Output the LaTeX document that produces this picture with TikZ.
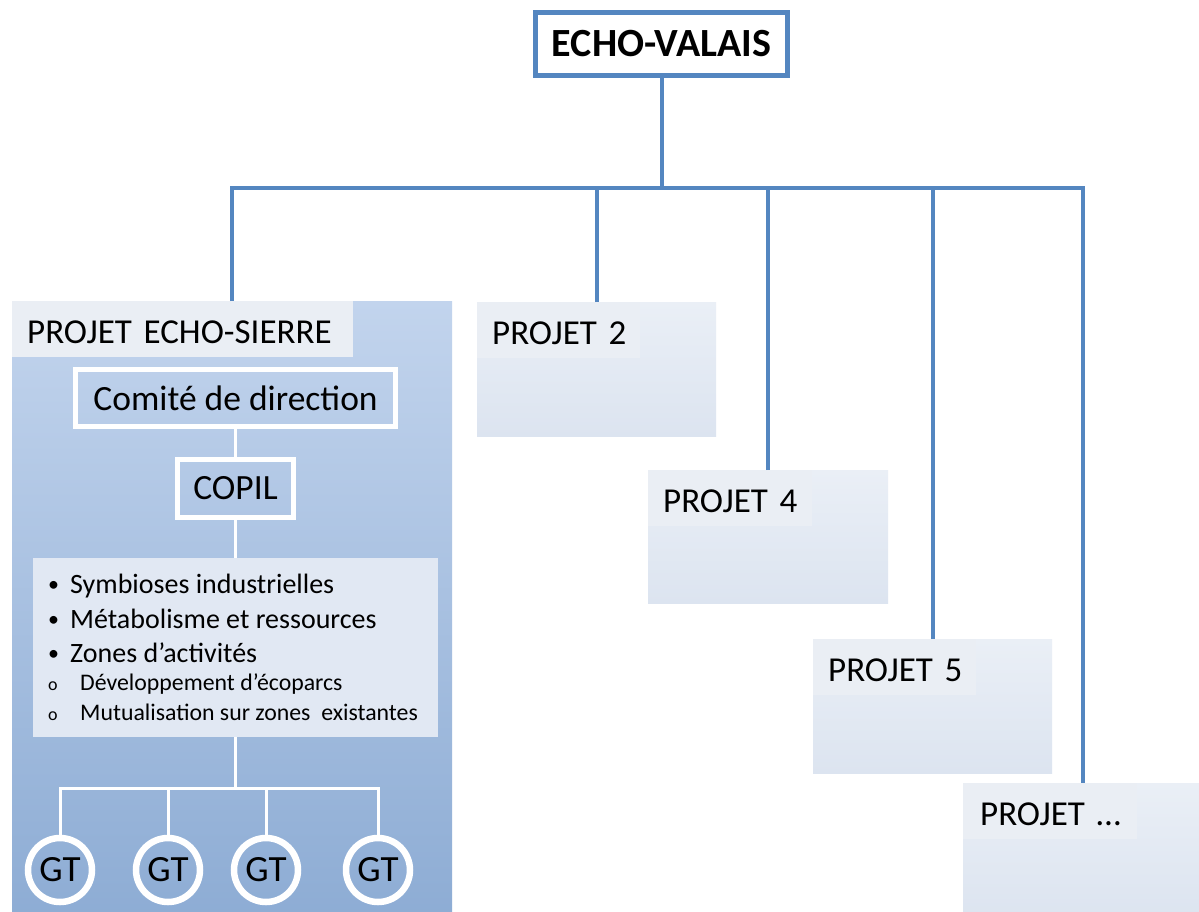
\documentclass[tikz,border=0pt]{standalone}
\usepackage{fontspec}
\setmainfont{Carlito}
\definecolor{blueline}{RGB}{84,134,192}
\definecolor{paneltop}{RGB}{194,212,237}
\definecolor{panelbot}{RGB}{141,172,212}
\definecolor{labelfill}{RGB}{234,238,244}
\definecolor{listfill}{RGB}{225,232,243}
\definecolor{projtop}{RGB}{234,239,246}
\definecolor{projbot}{RGB}{220,228,240}
\tikzset{
  conn/.style={draw=blueline, line width=4pt},
  wline/.style={draw=white, line width=3pt},
  mainbox/.style={draw=blueline, line width=5pt, fill=white, inner sep=0pt,
    minimum width=252pt, minimum height=63pt, font=\fontsize{40}{46}\selectfont\bfseries},
  panel/.style={rectangle, inner sep=0pt, outer sep=0pt, anchor=north west},
  bigpanel/.style={panel, top color=paneltop, bottom color=panelbot},
  projpanel/.style={panel, top color=projtop, bottom color=projbot},
  lab/.style={rectangle, fill=labelfill, anchor=north west, inner xsep=15pt, inner ysep=0pt,
    minimum height=56pt, align=left, text height=28pt, text depth=0pt,
    font=\fontsize{35}{40}\selectfont},
  wbox/.style={draw=white, line width=5pt, inner sep=0pt, font=\fontsize{35.5}{40}\selectfont},
  gt/.style={circle, draw=white, line width=6.5pt, minimum size=64pt, inner sep=0pt,
    font=\fontsize{37}{42}\selectfont},
  item/.style={anchor=base west, inner sep=0pt, font=\fontsize{28}{32}\selectfont},
  bul/.style={anchor=base west, inner sep=0pt, font=\fontsize{22}{26}\selectfont},
  subitem/.style={anchor=base west, inner sep=0pt, font=\fontsize{23.8}{28}\selectfont},
  subbul/.style={anchor=base west, inner sep=0pt, font=\fontsize{18}{22}\selectfont}
}
\begin{document}
\begin{tikzpicture}[x=1pt,y=-1pt]
\useasboundingbox (0,0) rectangle (1199,912);
\fill[white] (0,0) rectangle (1199,912);
% main box
\node[mainbox] (echo) at (661.5,44) {ECHO-VALAIS};
% panels
\node[bigpanel, minimum width=440pt, minimum height=620pt] (p1) at (12,301) {};
\node[projpanel, minimum width=239pt, minimum height=134pt] (p2) at (477,302) {};
\node[projpanel, minimum width=240pt, minimum height=133pt] (p4) at (648,470) {};
\node[projpanel, minimum width=239pt, minimum height=134pt] (p5) at (813,639) {};
\node[projpanel, minimum width=240pt, minimum height=134pt] (p6) at (963,783) {};
% labels
\node[lab, text width=311pt] (l1) at (p1.north west) {\mbox{PROJET ECHO-SIERRE}};
\node[lab, text width=133pt] (l2) at (p2.north west) {\mbox{PROJET 2}};
\node[lab, text width=134pt] (l4) at (p4.north west) {\mbox{PROJET 4}};
\node[lab, text width=133pt] (l5) at (p5.north west) {\mbox{PROJET 5}};
\node[lab, text width=144pt] (l6) at (p6.north west) {\mbox{\hspace{2pt}PROJET …}};
% connectors
\coordinate (bus) at (662,188);
\draw[conn] (echo.south) -- (echo.south |- bus);
\draw[conn, line join=miter] (p1.north) |- (p6.north |- bus) -- (p6.north);
\draw[conn] (p2.north) -- (p2.north |- bus);
\draw[conn] (p4.north) -- (p4.north |- bus);
\draw[conn] (p5.north) -- (p5.north |- bus);
% inner structure
\node[wbox, minimum width=320pt, minimum height=57pt] (cd) at (235.5,398) {Comité de direction};
\node[wbox, minimum width=116pt, minimum height=58pt] (copil) at (235.5,488.5) {COPIL};
\node[fill=listfill, minimum width=405pt, minimum height=179pt, inner sep=0pt] (list) at (235.5,647.5) {};
\node[bul] (i1b) at (48,591) {\textbullet};
\node[item] (i1) at (70,593) {Symbioses industrielles};
\node[bul] (i2b) at (48,626) {\textbullet};
\node[item] (i2) at (70,628) {Métabolisme et ressources};
\node[bul] (i3b) at (48,660) {\textbullet};
\node[item] (i3) at (70,662) {Zones d’activités};
\node[subbul] (s1b) at (48,690) {o};
\node[subitem] (s1) at (80,690) {Développement d’écoparcs};
\node[subbul] (s2b) at (48,720) {o};
\node[subitem] (s2) at (80,720) {Mutualisation sur zones\ \ existantes};
\node[gt] (g1) at (60,870) {GT};
\node[gt] (g2) at (168,870) {GT};
\node[gt] (g3) at (266,870) {GT};
\node[gt] (g4) at (378,870) {GT};
\coordinate (gbus) at (236,788);
\draw[wline] (cd.south) -- (copil.north);
\draw[wline] (copil.south) -- (list.north);
\draw[wline] (list.south) -- (list.south |- gbus);
\draw[wline, line join=miter] (g1.north) |- (g4.north |- gbus) -- (g4.north);
\draw[wline] (g2.north) -- (g2.north |- gbus);
\draw[wline] (g3.north) -- (g3.north |- gbus);
\end{tikzpicture}
\end{document}
